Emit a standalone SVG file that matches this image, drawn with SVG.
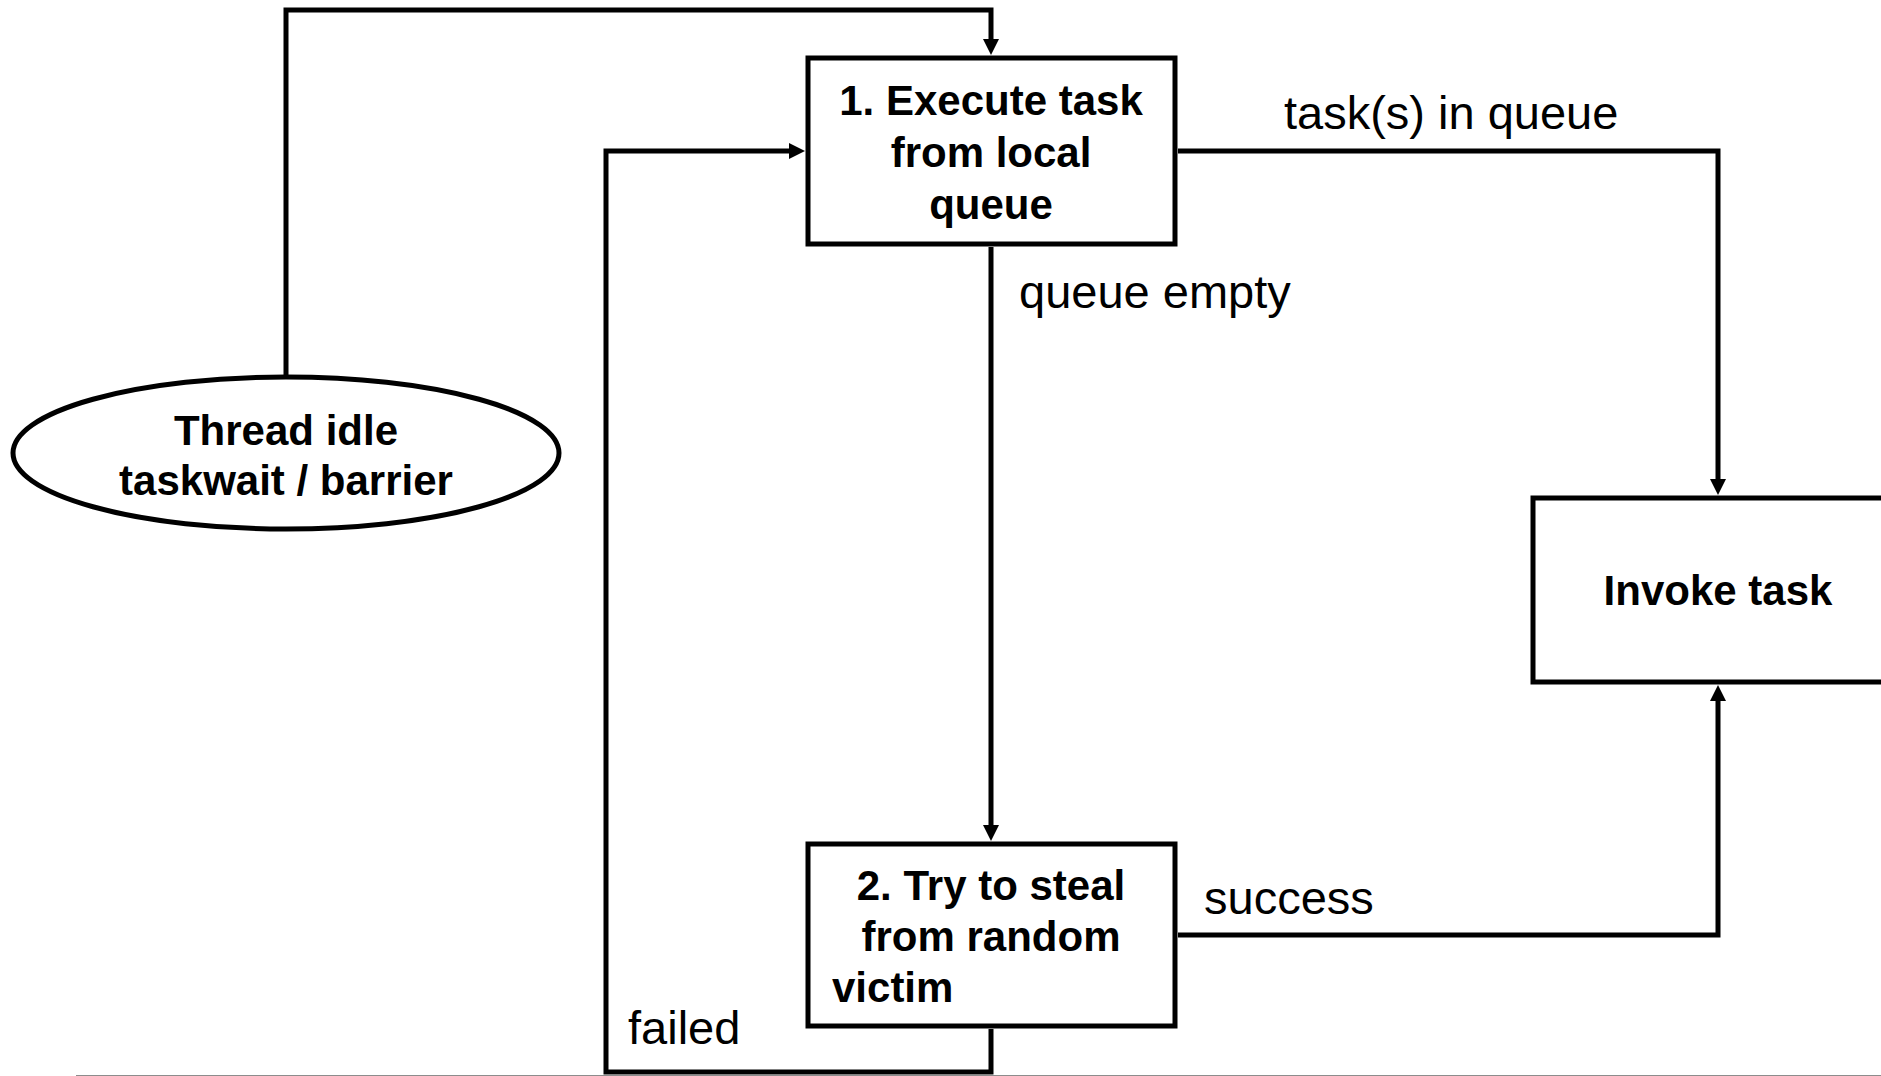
<svg xmlns="http://www.w3.org/2000/svg" width="1881" height="1076" viewBox="0 0 1881 1076">
  <style>
    .box { fill: #ffffff; stroke: #000000; stroke-width: 5; }
    .edge { fill: none; stroke: #000000; stroke-width: 5; stroke-linejoin: miter; stroke-linecap: butt; }
    .title { font-family: "Liberation Sans", Arial, sans-serif; font-weight: bold; font-size: 42px; fill: #000000; }
    .lbl { font-family: "Liberation Sans", Arial, sans-serif; font-size: 47px; fill: #000000; }
  </style>
  <defs>
    <marker id="arrow" markerUnits="userSpaceOnUse" markerWidth="18" markerHeight="18" refX="10" refY="8" orient="auto">
      <path d="M0,0 L16,8 L0,16 z" fill="#000000"/>
    </marker>
  </defs>

  <rect width="1881" height="1076" fill="#ffffff"/>

  <!-- connectors -->
  <g id="connectors">
    <!-- idle thread re-enters the local queue -->
    <path class="edge" d="M286,377 L286,10 L991,10 L991,49" marker-end="url(#arrow)"/>
    <!-- queue empty -->
    <path class="edge" d="M991,247 L991,835" marker-end="url(#arrow)"/>
    <!-- task(s) in queue -->
    <path class="edge" d="M1178,151 L1718,151 L1718,489" marker-end="url(#arrow)"/>
    <!-- success -->
    <path class="edge" d="M1178,935 L1718,935 L1718,691" marker-end="url(#arrow)"/>
    <!-- failed: loop back to step 1 -->
    <path class="edge" d="M991,1029 L991,1072 L606,1072 L606,151 L799,151" marker-end="url(#arrow)"/>
  </g>

  <!-- nodes -->
  <g id="idle">
    <ellipse class="box" cx="286" cy="453" rx="273" ry="76"/>
    <text class="title" x="286" y="445" text-anchor="middle">Thread idle</text>
    <text class="title" x="286" y="495" text-anchor="middle">taskwait / barrier</text>
  </g>

  <g id="execute">
    <rect class="box" x="808" y="58" width="367" height="186"/>
    <text class="title" x="991" y="115" text-anchor="middle">1. Execute task</text>
    <text class="title" x="991" y="167" text-anchor="middle">from local</text>
    <text class="title" x="991" y="219" text-anchor="middle">queue</text>
  </g>

  <g id="steal">
    <rect class="box" x="808" y="844" width="367" height="182"/>
    <text class="title" x="991" y="900" text-anchor="middle">2. Try to steal</text>
    <text class="title" x="991" y="951" text-anchor="middle">from random</text>
    <text class="title" x="832" y="1002">victim</text>
  </g>

  <g id="invoke">
    <rect class="box" x="1533" y="498" width="400" height="184"/>
    <text class="title" x="1718" y="605" text-anchor="middle">Invoke task</text>
  </g>

  <!-- edge labels -->
  <g id="labels">
    <text class="lbl" x="1284" y="129">task(s) in queue</text>
    <text class="lbl" x="1019" y="308">queue empty</text>
    <text class="lbl" x="1204" y="914">success</text>
    <text class="lbl" x="628" y="1044">failed</text>
  </g>

  <!-- page rule at the bottom -->
  <line x1="76" y1="1075.5" x2="1881" y2="1075.5" stroke="#8c8c8c" stroke-width="1"/>
</svg>
